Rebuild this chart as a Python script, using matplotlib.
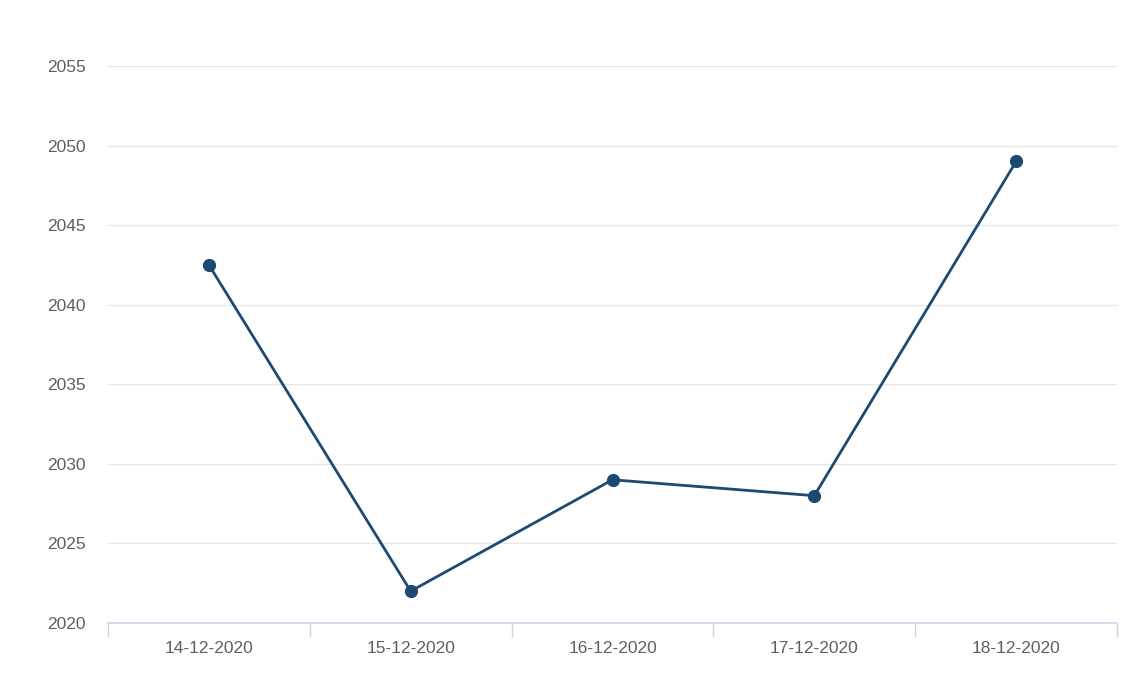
import matplotlib
matplotlib.use("Agg")
import matplotlib.pyplot as plt
import numpy as np

dates = ["14-12-2020", "15-12-2020", "16-12-2020", "17-12-2020", "18-12-2020"]
values = [2042.5, 2022, 2029, 2028, 2049]
y_ticks = [2020, 2025, 2030, 2035, 2040, 2045, 2050, 2055]

plt.rcParams['font.family'] = ['Liberation Sans', 'DejaVu Sans']

fig = plt.figure(figsize=(11.4, 6.96), dpi=100)
ax = fig.add_axes([108 / 1140, 1 - 623 / 696, (1117 - 108) / 1140, (623 - 66) / 696])

x = np.arange(len(dates))
ax.plot(x, values, color='#1d4a73', linewidth=2.0, marker='o', markersize=8.5, zorder=3)

ax.set_xlim(-0.5, len(dates) - 0.5)
ax.set_ylim(2020, 2055)

# y axis: gridlines only
ax.set_yticks(y_ticks)
ax.grid(axis='y', color='#e6e6e6', linewidth=1)
ax.tick_params(axis='y', length=0, pad=16, labelsize=12.5, labelcolor='#5f5f5f')
for lbl in ax.get_yticklabels():
    lbl.set_verticalalignment('center_baseline')

# x axis: ticks at category edges, labels centered
ax.set_xticks(np.arange(-0.5, len(dates), 1.0))
ax.set_xticklabels([])
ax.set_xticks(x, minor=True)
ax.set_xticklabels(dates, minor=True)
ax.tick_params(axis='x', which='major', length=10, color='#ccd6eb', width=1)
ax.tick_params(axis='x', which='minor', length=0, pad=13, labelsize=12.5, labelcolor='#5f5f5f')

for side in ['top', 'right', 'left']:
    ax.spines[side].set_visible(False)
ax.spines['bottom'].set_color('#ccd6eb')
ax.spines['bottom'].set_linewidth(1.2)
ax.set_axisbelow(True)

fig.savefig("out.png", dpi=100)
